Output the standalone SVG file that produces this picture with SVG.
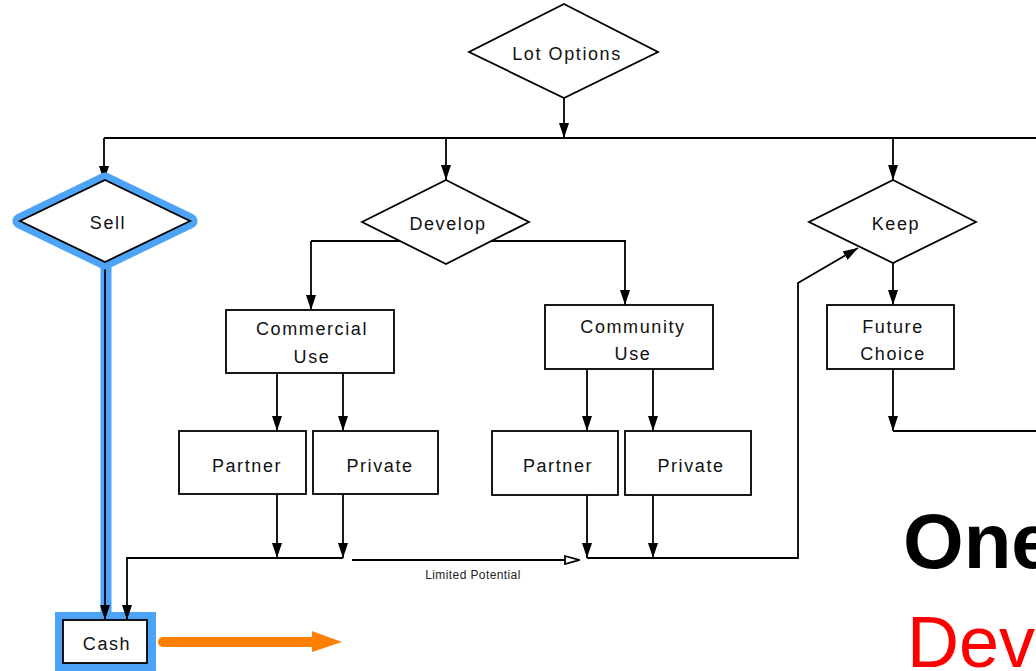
<svg xmlns="http://www.w3.org/2000/svg" width="1036" height="671" viewBox="0 0 1036 671">
  <style>
    .shape { fill: #ffffff; stroke: #000000; stroke-width: 1.8; }
    .lbl { font-family: "Liberation Sans", Arial, sans-serif; font-size: 18px; letter-spacing: 1.6px; fill: #111111; text-anchor: middle; }
    .wire { fill: none; stroke: #000000; stroke-width: 1.8; }
    .arrow { marker-end: url(#head); }
    .hl { fill: none; stroke: #4da3f5; stroke-linejoin: round; }
  </style>
  <defs>
    <marker id="head" markerUnits="userSpaceOnUse" markerWidth="15" markerHeight="10" refX="15" refY="5" orient="auto" viewBox="0 0 15 10">
      <path d="M0,0 L15,5 L0,10 z" fill="#000000"/>
    </marker>
    <marker id="openhead" markerUnits="userSpaceOnUse" markerWidth="16" markerHeight="10" refX="15" refY="5" orient="auto" viewBox="0 0 16 10">
      <path d="M1,1 L15,5 L1,9 z" fill="#ffffff" stroke="#000000" stroke-width="1.8"/>
    </marker>
  </defs>

  <rect width="1036" height="671" fill="#ffffff"/>

  <!-- highlighted path: Sell to Cash -->
  <g id="highlight">
    <line x1="106" y1="262" x2="106" y2="614" class="hl" stroke-width="11"/>
    <rect x="55" y="612" width="101" height="62" fill="#4da3f5"/>
  </g>

  <g id="connectors">
    <!-- Lot Options fan-out -->
    <line x1="564" y1="97" x2="564" y2="138" class="wire arrow"/>
    <line x1="104" y1="138" x2="1036" y2="138" class="wire"/>
    <line x1="104" y1="138" x2="104" y2="181" class="wire arrow"/>
    <line x1="446" y1="138" x2="446" y2="180" class="wire arrow"/>
    <line x1="893" y1="138" x2="893" y2="180" class="wire arrow"/>

    <!-- Sell to Cash -->
    <line x1="105" y1="262" x2="105" y2="620" class="wire arrow"/>

    <!-- Develop branches -->
    <line x1="311" y1="241" x2="626" y2="241" class="wire"/>
    <line x1="311" y1="241" x2="311" y2="310" class="wire arrow"/>
    <line x1="625" y1="241" x2="625" y2="305" class="wire arrow"/>

    <!-- Commercial Use -->
    <line x1="277" y1="373" x2="277" y2="431" class="wire arrow"/>
    <line x1="343" y1="373" x2="343" y2="431" class="wire arrow"/>
    <line x1="277" y1="494" x2="277" y2="558" class="wire arrow"/>
    <line x1="343" y1="494" x2="343" y2="558" class="wire arrow"/>
    <polyline points="343,558 127,558 127,620" class="wire arrow"/>

    <!-- Limited Potential -->
    <line x1="352" y1="560" x2="579" y2="560" class="wire" marker-end="url(#openhead)"/>

    <!-- Community Use -->
    <line x1="587" y1="369" x2="587" y2="431" class="wire arrow"/>
    <line x1="653" y1="369" x2="653" y2="431" class="wire arrow"/>
    <line x1="587" y1="495" x2="587" y2="558" class="wire arrow"/>
    <line x1="653" y1="495" x2="653" y2="558" class="wire arrow"/>
    <polyline points="587,558 798,558 798,283 858,248" class="wire arrow"/>

    <!-- Keep -->
    <line x1="893" y1="263" x2="893" y2="305" class="wire arrow"/>
    <line x1="893" y1="369" x2="893" y2="431" class="wire arrow"/>
    <line x1="893" y1="431" x2="1036" y2="431" class="wire"/>

    <!-- Cash outflow -->
    <line x1="163" y1="642" x2="314" y2="642" stroke="#ff8000" stroke-width="10" stroke-linecap="round"/>
    <polygon points="312,631 342,642 312,652" fill="#ff8000"/>
  </g>

  <text x="473" y="579" font-family="Liberation Sans, Arial, sans-serif" font-size="12" letter-spacing="0.4" fill="#222222" text-anchor="middle">Limited Potential</text>

  <g id="lot-options">
    <polygon points="564,4 658,52 564,98 469,52" class="shape"/>
    <text x="567" y="60" class="lbl">Lot Options</text>
  </g>

  <g id="sell">
    <polygon points="105,180 190,221 105,262 20,221" class="hl" stroke-width="15"/>
    <polygon points="105,180 190,221 105,262 20,221" class="shape"/>
    <text x="108" y="229" class="lbl">Sell</text>
  </g>

  <g id="develop">
    <polygon points="446,180 529,222 446,264 362,222" class="shape"/>
    <text x="448" y="230" class="lbl">Develop</text>
  </g>

  <g id="keep">
    <polygon points="893,180 976,222 893,263 809,222" class="shape"/>
    <text x="896" y="230" class="lbl">Keep</text>
  </g>

  <g id="commercial-use">
    <rect x="226" y="310" width="168" height="63" class="shape"/>
    <text x="312" y="335" class="lbl">Commercial</text>
    <text x="312" y="363" class="lbl">Use</text>
  </g>

  <g id="commercial-partner">
    <rect x="179" y="431" width="127" height="63" class="shape"/>
    <text x="247" y="472" class="lbl">Partner</text>
  </g>

  <g id="commercial-private">
    <rect x="313" y="431" width="125" height="63" class="shape"/>
    <text x="380" y="472" class="lbl">Private</text>
  </g>

  <g id="community-use">
    <rect x="545" y="305" width="168" height="64" class="shape"/>
    <text x="633" y="333" class="lbl">Community</text>
    <text x="633" y="360" class="lbl">Use</text>
  </g>

  <g id="community-partner">
    <rect x="492" y="431" width="126" height="64" class="shape"/>
    <text x="558" y="472" class="lbl">Partner</text>
  </g>

  <g id="community-private">
    <rect x="625" y="431" width="126" height="64" class="shape"/>
    <text x="691" y="472" class="lbl">Private</text>
  </g>

  <g id="future-choice">
    <rect x="827" y="305" width="127" height="64" class="shape"/>
    <text x="893" y="333" class="lbl">Future</text>
    <text x="893" y="360" class="lbl">Choice</text>
  </g>

  <g id="cash">
    <rect x="63" y="620" width="84" height="43" class="shape"/>
    <text x="107" y="650" class="lbl">Cash</text>
  </g>

  <!-- headline, running past the right edge -->
  <text x="903" y="568" font-family="Liberation Sans, Arial, sans-serif" font-size="78" font-weight="bold" fill="#000000">One</text>
  <text x="907" y="667" font-family="Liberation Sans, Arial, sans-serif" font-size="72" fill="#ff0000">Dev</text>
</svg>
